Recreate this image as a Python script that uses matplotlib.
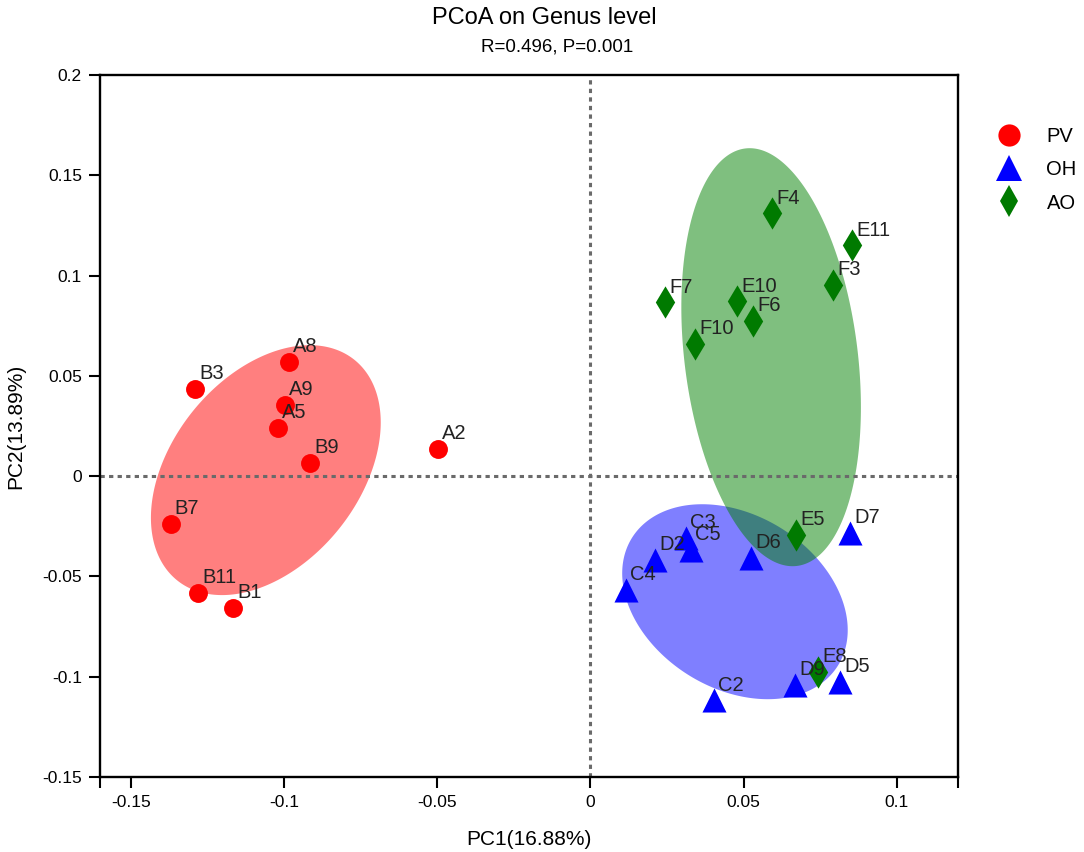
import numpy as np
import matplotlib
matplotlib.use("Agg")
import matplotlib.pyplot as plt
from matplotlib.lines import Line2D

plt.rcParams['font.family'] = ['Liberation Sans', 'DejaVu Sans']

# ---- data ----
pv_names = ["A8", "B3", "A9", "A5", "B9", "A2", "B7", "B11", "B1"]
pv_x = [-0.0984, -0.129, -0.0997, -0.102, -0.0915, -0.0498, -0.137, -0.128, -0.1166]
pv_y = [0.0570, 0.0434, 0.0355, 0.0240, 0.0065, 0.0135, -0.0239, -0.0583, -0.0658]

oh_names = ["C3", "C5", "D2", "C4", "D6", "D7", "C2", "D9", "D5"]
oh_x = [0.0313, 0.0329, 0.0212, 0.0117, 0.0524, 0.0847, 0.0404, 0.0668, 0.0814]
oh_y = [-0.0309, -0.0369, -0.0419, -0.0568, -0.0409, -0.0284, -0.1118, -0.1042, -0.1027]

ao_names = ["F4", "E11", "F3", "F7", "E10", "F6", "F10", "E5", "E8"]
ao_x = [0.0593, 0.0853, 0.0791, 0.0244, 0.0480, 0.0532, 0.0342, 0.0671, 0.0743]
ao_y = [0.1310, 0.1150, 0.0952, 0.0867, 0.0872, 0.0773, 0.0658, -0.0294, -0.0977]

# ellipse parameters: centre, half-width, half-height, covariance term
ell_pv = dict(cx=-0.1059, cy=0.0030, hx=0.0375, hy=0.0623, sxy=0.000891)
ell_oh = dict(cx=0.0472, cy=-0.0626, hx=0.0368, hy=0.0486, sxy=-0.00052)
ell_ao = dict(cx=0.0590, cy=0.0593, hx=0.0293, hy=0.1042, sxy=-0.00073)

groups = ["PV", "OH", "AO"]
colors = ["#FF0000", "#0000FF", "#007A00"]
fill_colors = ["#FF0000", "#0000FF", "#008000"]

x_ticks = [-0.15, -0.1, -0.05, 0, 0.05, 0.1]
x_tick_labels = ["-0.15", "-0.1", "-0.05", "0", "0.05", "0.1"]
y_ticks = [-0.15, -0.1, -0.05, 0, 0.05, 0.1, 0.15, 0.2]
y_tick_labels = ["-0.15", "-0.1", "-0.05", "0", "0.05", "0.1", "0.15", "0.2"]


def ellipse_xy(p, n=300):
    S = np.array([[p['hx'] ** 2, p['sxy']], [p['sxy'], p['hy'] ** 2]])
    L = np.linalg.cholesky(S)
    t = np.linspace(0, 2 * np.pi, n)
    v = L @ np.vstack([np.cos(t), np.sin(t)])
    return p['cx'] + v[0], p['cy'] + v[1]


fig = plt.figure(figsize=(10.84, 8.52), dpi=100)
ax = fig.add_axes([0.0923, 0.088, 0.7915, 0.824])
ax.set_xlim(-0.16, 0.12)
ax.set_ylim(-0.15, 0.2)

for p, fc in zip([ell_pv, ell_oh, ell_ao], fill_colors):
    ex, ey = ellipse_xy(p)
    ax.fill(ex, ey, color=fc, alpha=0.5, lw=0, zorder=1)

ax.axhline(0, color="#6a6a6a", lw=2.2, ls=(0, (1.4, 1.4)), zorder=2)
ax.axvline(0, color="#6a6a6a", lw=2.2, ls=(0, (1.4, 1.4)), zorder=2)

ax.scatter(pv_x, pv_y, s=185, marker='o', color=colors[0], lw=0, zorder=3)
ax.scatter(oh_x, oh_y, s=300, marker='^', color=colors[1], lw=0, zorder=3)
ax.scatter(ao_x, ao_y, s=270, marker='d', color=colors[2], lw=0, zorder=3)

for names, xs, ys in [(pv_names, pv_x, pv_y), (oh_names, oh_x, oh_y), (ao_names, ao_x, ao_y)]:
    for n, x, y in zip(names, xs, ys):
        ax.annotate(n, (x, y), xytext=(3, 7), textcoords='offset points',
                    ha='left', va='baseline', fontsize=14.5, color='#222222', zorder=4)

ax.set_xticks([-0.16] + x_ticks + [0.12])
ax.set_xticklabels([""] + x_tick_labels + [""])
ax.set_yticks(y_ticks)
ax.set_yticklabels(y_tick_labels)
ax.tick_params(direction='out', length=8, width=1.5, labelsize=12.5, pad=5, color='black')
for sp in ax.spines.values():
    sp.set_linewidth(1.7)
    sp.set_color('black')

ax.set_xlabel("PC1(16.88%)", fontsize=15, labelpad=14)
ax.set_ylabel("PC2(13.89%)", fontsize=15, labelpad=12)

fig.text(0.502, 0.979, "PCoA on Genus level", ha='center', va='center', fontsize=17)
fig.text(0.514, 0.945, "R=0.496, P=0.001", ha='center', va='center', fontsize=13.5)

handles = [
    Line2D([], [], marker='o', ls='', color=colors[0], markersize=16, mew=0),
    Line2D([], [], marker='^', ls='', color=colors[1], markersize=19, mew=0),
    Line2D([], [], marker='d', ls='', color=colors[2], markersize=16, mew=0),
]
fig.legend(handles, groups, loc='upper left', bbox_to_anchor=(0.905, 0.86),
           frameon=False, fontsize=14.5, handletextpad=0.85, labelspacing=0.7,
           borderaxespad=0)

fig.savefig("out.png", dpi=100)
